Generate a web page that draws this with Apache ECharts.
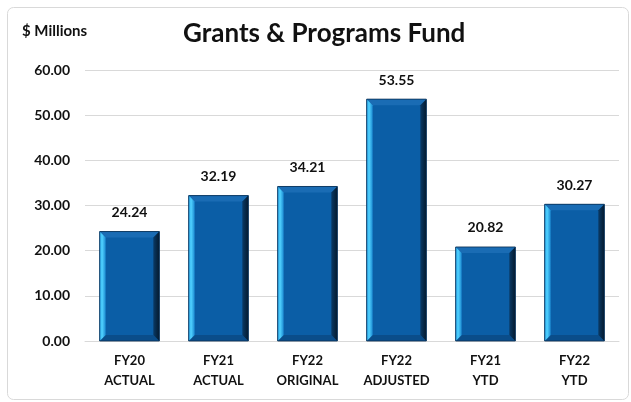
<!DOCTYPE html>
<html>
<head>
<meta charset="utf-8">
<script src="https://cdn.jsdelivr.net/npm/echarts@6/dist/echarts.min.js"></script>
<style>
  html, body { margin: 0; padding: 0; background: #fff; }
  #main { width: 631px; height: 402px; }
</style>
</head>
<body>
<div id="main"></div>
<script>
var categories = ['FY20\nACTUAL', 'FY21\nACTUAL', 'FY22\nORIGINAL', 'FY22\nADJUSTED', 'FY21\nYTD', 'FY22\nYTD'];
var fundValues = [24.24, 32.19, 34.21, 53.55, 20.82, 30.27];
var yTicks = [0, 10, 20, 30, 40, 50, 60];

var myChart = echarts.init(document.getElementById('main'));
var fontName = 'Lato, "Open Sans", sans-serif';
var barRatio = 0.67;

// draws the bevelled look of each bar on top of the plain bar
function bevel(params, api) {
    var idx = api.value(0);
    var top = api.coord([idx, api.value(1)]);
    var base = api.coord([idx, 0]);
    var w = api.size([1, 0])[0] * barRatio;
    var x0 = top[0] - w / 2, x1 = top[0] + w / 2;
    var y0 = top[1], y1 = base[1];
    var b = 6;
    return {
        type: 'group',
        silent: true,
        children: [
            { type: 'rect', shape: { x: x0, y: y0, width: w, height: y1 - y0 }, style: { fill: '#0b5ea6' } },
            { type: 'polygon', shape: { points: [[x0, y0], [x1, y0], [x1 - b, y0 + b], [x0 + b, y0 + b]] },
              style: { fill: '#1a6cb4' } },
            { type: 'polygon', shape: { points: [[x0, y1], [x0 + b, y1 - b], [x1 - b, y1 - b], [x1, y1]] },
              style: { fill: '#0a4d8a' } },
            { type: 'polygon', shape: { points: [[x0, y0], [x0 + b, y0 + b], [x0 + b, y1 - b], [x0, y1]] },
              style: { fill: new echarts.graphic.LinearGradient(0, 0, 1, 0, [
                  { offset: 0, color: '#2aa6ea' }, { offset: 0.4, color: '#50d2ff' }, { offset: 1, color: '#1c8ad2' }]) } },
            { type: 'polygon', shape: { points: [[x1, y0], [x1, y1], [x1 - b, y1 - b], [x1 - b, y0 + b]] },
              style: { fill: new echarts.graphic.LinearGradient(0, 0, 1, 0, [
                  { offset: 0, color: '#0a3a66' }, { offset: 1, color: '#041a2e' }]) } },
            { type: 'rect', shape: { x: x0, y: y0, width: w, height: y1 - y0 },
              style: { fill: 'none', stroke: '#0a2f52', lineWidth: 0.8 } }
        ]
    };
}

option = {
    animation: false,
    textStyle: { fontFamily: fontName },
    graphic: [
        { type: 'rect', left: 5, top: 5, shape: { width: 621, height: 392, r: 6 },
          style: { fill: 'none', stroke: '#d9d9d9', lineWidth: 1 }, z: -1 },
        { type: 'text', left: 22, top: 24,
          style: { text: '$ Millions', font: 'bold 15px ' + fontName, fill: '#111' } }
    ],
    title: {
        text: 'Grants & Programs Fund',
        left: 183,
        top: 21,
        padding: 0,
        textStyle: { fontSize: 26, fontWeight: 'bold', color: '#111', fontFamily: fontName }
    },
    grid: { left: 85, right: 12, top: 70, bottom: 61, outerBoundsMode: 'none' },
    xAxis: {
        type: 'category',
        data: categories,
        axisLine: { lineStyle: { color: '#d9d9d9' } },
        axisTick: { show: false },
        axisLabel: { color: '#111', fontWeight: 'bold', fontSize: 13, lineHeight: 20, margin: 10, interval: 0 }
    },
    yAxis: {
        type: 'value',
        min: yTicks[0],
        max: yTicks[yTicks.length - 1],
        interval: 10,
        axisLabel: {
            color: '#111', fontWeight: 'bold', fontSize: 14, margin: 15,
            formatter: function (v) { return v.toFixed(2); }
        },
        splitLine: { lineStyle: { color: '#d9d9d9' } }
    },
    series: [
        {
            type: 'bar',
            data: fundValues,
            barWidth: (barRatio * 100) + '%',
            itemStyle: { color: '#0b5ea6' },
            label: {
                show: true, position: 'top', distance: 12,
                color: '#111', fontWeight: 'bold', fontSize: 14,
                formatter: function (p) { return p.value.toFixed(2); }
            }
        },
        {
            type: 'custom',
            renderItem: bevel,
            data: fundValues.map(function (v, i) { return [i, v]; }),
            z: 3
        }
    ]
};
myChart.setOption(option);
</script>
</body>
</html>
